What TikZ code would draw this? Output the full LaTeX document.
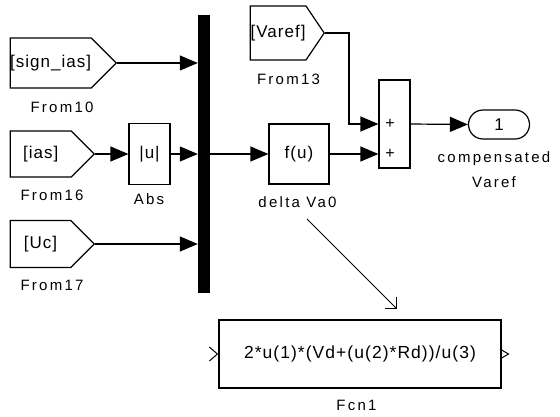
\documentclass[tikz,border=0pt]{standalone}
\usepackage{fontspec}
\setmainfont{Liberation Sans}
\newfontfamily\lblfont[LetterSpace=15]{Liberation Sans}
\newfontfamily\blkfont[LetterSpace=6]{Liberation Sans}
\usetikzlibrary{positioning,shapes.symbols,shapes.misc,arrows.meta}

\begin{document}
\begin{tikzpicture}[x=1pt, y=-1pt,
  tag/.style={signal, signal to=east, draw, line width=1.2pt, inner sep=0pt, anchor=west, font=\blkfont\fontsize{17}{19}\selectfont},
  blk/.style={rectangle, draw, line width=1.2pt, inner sep=0pt, font=\blkfont\fontsize{17}{19}\selectfont},
  bus/.style={rectangle, fill=black, inner sep=0pt, minimum width=12pt, minimum height=278pt},
  lbl/.style={inner sep=0pt, font=\lblfont\fontsize{15}{25}\selectfont},
  sig/.style={line width=1.2pt, -{Triangle[length=18pt, width=15pt]}}
]
  \useasboundingbox (0,0) rectangle (560,416);

  \node[bus] (bus) at (204,154) {};
  \node[tag, minimum width=104pt, minimum height=50pt] (from10) at (9.6,63) {[sign\_ias]};
  \node[tag, minimum width=84pt, minimum height=46pt] (from16) at (9.6,154) {[ias]};
  \node[tag, minimum width=84pt, minimum height=47pt] (from17) at (9.6,244) {[Uc]};
  \node[tag, minimum width=74pt, minimum height=54pt, signal pointer angle=112] (from13) at (249.6,33) {[Varef]};
  \node[blk, minimum width=41pt, minimum height=61pt] (abs) at (149.5,154) {|u|};
  \node[blk, minimum width=60pt, minimum height=60pt] (fu) at (299,154) {f(u)};
  \node[blk, minimum width=31pt, minimum height=88pt] (sum) at (394.5,124) {};
  \node[blk, draw=none, font=\blkfont\fontsize{16}{18}\selectfont] (plus1) at (390,124) {+};
  \node[blk, draw=none, font=\blkfont\fontsize{16}{18}\selectfont] (plus2) at (390,154) {+};
  \node[rounded rectangle, draw, line width=1.2pt, inner sep=0pt, minimum width=61pt, minimum height=29pt,
    font=\blkfont\fontsize{17}{19}\selectfont] (out) at (499,124.5) {1};
  \node[blk, minimum width=282pt, minimum height=68pt, font=\blkfont\fontsize{17.5}{20}\selectfont] (fcn) at (360,354)
    {2*u(1)*(Vd+(u(2)*Rd))/u(3)};

  \node[lbl] (from10lbl) at (62,107.5) {From10};
  \node[lbl] (from16lbl) at (52,195) {From16};
  \node[lbl] (from17lbl) at (52,285) {From17};
  \node[lbl] (from13lbl) at (288.5,79.5) {From13};
  \node[lbl] (abslbl) at (149,199.5) {Abs};
  \node[lbl] (fulbl) at (297.5,202.5) {delta Va0};
  \node[lbl, align=center, anchor=north] (outlbl) at (494,151.5) {compensated\\Varef};
  \node[lbl] (fcnlbl) at (356.5,405) {Fcn1};

  \coordinate (bend) at (349,0);
  \coordinate (dstart) at (307,219);
  \coordinate (dend) at (397,309);

  \draw[sig] (from10.east) -- (from10.east -| bus.west);
  \draw[sig] (from16.east) -- (abs.west);
  \draw[sig] (abs.east) -- (abs.east -| bus.west);
  \draw[sig] (from17.east) -- (from17.east -| bus.west);
  \draw[sig] (bus.east) -- (fu.west);
  \draw[sig] (fu.east) -- (fu.east -| sum.west);
  \draw[sig] (from13.east) -- (from13.east -| bend) -- (bend |- sum.west) -- (sum.west);
  \draw[sig] (sum.east) -- (out.west);
  \draw[line width=0.9pt, -{Straight Barb[length=8.5pt, width=17pt]}] (dstart) -- (dend);

  \draw[line width=1pt] (fcn.west) ++(-9,-7) -- ++(8,7) -- ++(-8,7);
  \draw[line width=1pt] (fcn.east) ++(0,-4) -- ++(7,4) -- ++(-7,4);
\end{tikzpicture}
\end{document}
